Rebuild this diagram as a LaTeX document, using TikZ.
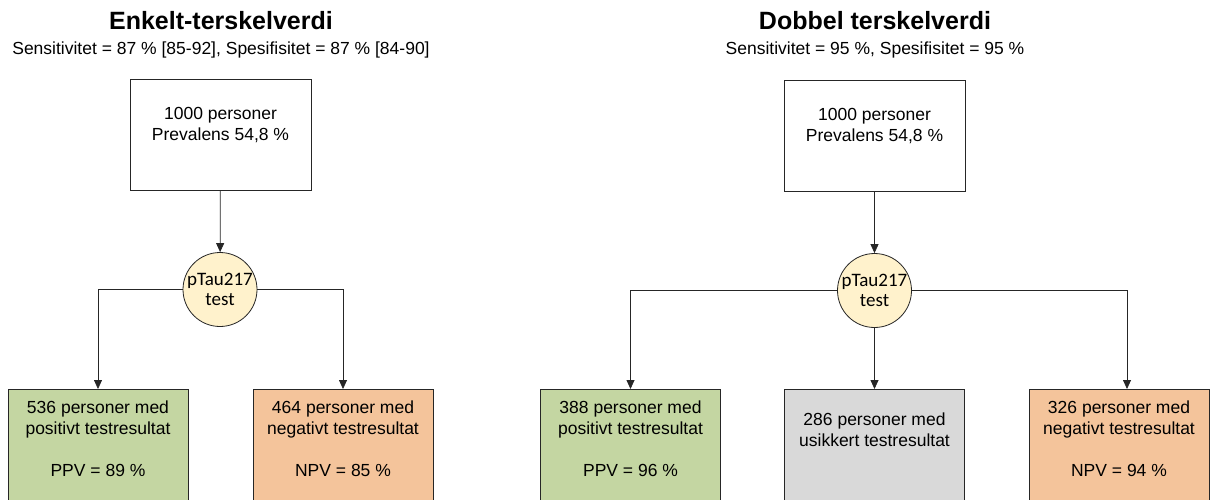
\documentclass[tikz,border=0pt]{standalone}
\usepackage{fontspec}
\setmainfont{Liberation Sans}
\newfontfamily\calibri{Carlito}
\usetikzlibrary{arrows.meta,positioning}

\definecolor{posgreen}{RGB}{196,214,162}
\definecolor{negorange}{RGB}{244,196,155}
\definecolor{unsuregray}{RGB}{217,217,217}
\definecolor{testyellow}{RGB}{255,242,204}

\begin{document}
\begin{tikzpicture}[x=1pt,y=-1pt,
  line/.style={draw=black!85,line width=0.8pt},
  arr/.style={line,-{Triangle[width=8pt,length=9pt]}},
  startbox/.style={line,minimum width=181pt,minimum height=111pt,anchor=north},
  resbox/.style={line,minimum width=180pt,minimum height=130pt,anchor=north},
  testnode/.style={circle,line,fill=testyellow,minimum size=74pt,inner sep=0pt,
    align=center,font=\calibri\fontsize{19}{20}\selectfont},
  txt/.style={inner sep=0pt,align=center,font=\fontsize{17.5}{21}\selectfont},
  title/.style={anchor=base,font=\fontsize{25}{28}\selectfont\bfseries},
  subtitle/.style={anchor=base,font=\fontsize{17.5}{20}\selectfont}]
\clip (0,0) rectangle (1210,499);

% enkelt terskelverdi
\node [title] (t1) at (221,29) {Enkelt-terskelverdi};
\node [subtitle] (s1) at (221,54) {Sensitivitet = 87 \% [85-92], Spesifisitet = 87 \% [84-90]};
\node [startbox] (start1) at (220.5,79) {};
\node [txt, below=28pt of start1.north] (start1txt) {1000 personer\\Prevalens 54,8 \%};
\node [testnode] (test1) at (220,289.5) {pTau217\\test};
\node [resbox,fill=posgreen] (pos1) at (98,389) {};
\node [txt, below=12pt of pos1.north] (pos1txt) {536 personer med\\positivt testresultat\\[21pt]PPV = 89 \%};
\node [resbox,fill=negorange] (neg1) at (343,389) {};
\node [txt, below=12pt of neg1.north] (neg1txt) {464 personer med\\negativt testresultat\\[21pt]NPV = 85 \%};

\draw [arr] (start1) -- (test1);
\draw [arr] (test1.west) -| (pos1.north);
\draw [arr] (test1.east) -| (neg1.north);

% dobbel terskelverdi
\node [title] (t2) at (875,29) {Dobbel terskelverdi};
\node [subtitle] (s2) at (875,54) {Sensitivitet = 95 \%, Spesifisitet = 95 \%};
\node [startbox] (start2) at (874.5,80) {};
\node [txt, below=28pt of start2.north] (start2txt) {1000 personer\\Prevalens 54,8 \%};
\node [testnode] (test2) at (874.5,290.5) {pTau217\\test};
\node [resbox,fill=posgreen] (pos2) at (630.5,389) {};
\node [txt, below=12pt of pos2.north] (pos2txt) {388 personer med\\positivt testresultat\\[21pt]PPV = 96 \%};
\node [resbox,fill=unsuregray] (unsure2) at (874.5,389) {};
\node [txt, below=24pt of unsure2.north] (unsure2txt) {286 personer med\\usikkert testresultat};
\node [resbox,fill=negorange] (neg2) at (1119,389) {};
\node [txt, below=12pt of neg2.north] (neg2txt) {326 personer med\\negativt testresultat\\[21pt]NPV = 94 \%};
\coordinate (neg2in) at (1127,389);

\draw [arr] (start2) -- (test2);
\draw [arr] (test2.west) -| (pos2.north);
\draw [arr] (test2) -- (unsure2);
\draw [arr] (test2.east) -| (neg2in);
\end{tikzpicture}
\end{document}
